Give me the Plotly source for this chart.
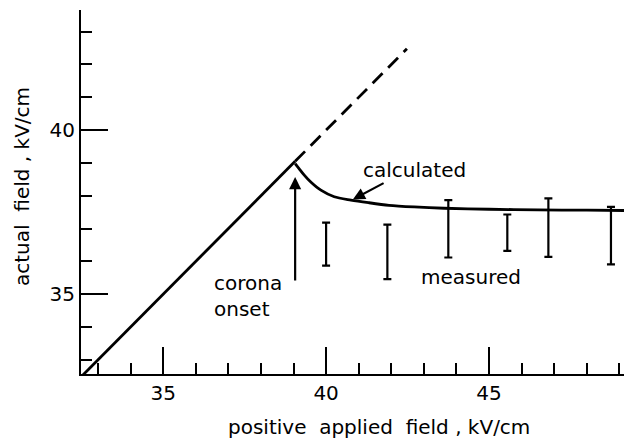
import plotly.graph_objects as go

# Below corona onset the actual field equals the applied field
onset_x = [32.48, 39.05]
onset_y = [32.48, 39.05]

# Extrapolation of the no-corona line beyond onset
extrap_x = [39.05, 42.48]
extrap_y = [39.05, 42.48]

# Calculated actual field after corona onset
calc_x = [39.05, 39.17, 39.33, 39.53, 39.84, 40.25, 40.76, 41.3, 41.93, 42.7, 43.62, 45.0, 46.5, 48.0, 49.2]
calc_y = [38.98, 38.83, 38.63, 38.42, 38.17, 37.97, 37.87, 37.79, 37.71, 37.66, 37.62, 37.59, 37.57, 37.56, 37.55]

# Measured ranges (low / high) of actual field
meas_x = [40.0, 41.88, 43.75, 45.56, 46.82, 48.74]
meas_lo = [35.87, 35.46, 36.12, 36.32, 36.14, 35.91]
meas_hi = [37.18, 37.12, 37.87, 37.43, 37.92, 37.66]

meas_mid = [(a + b) / 2 for a, b in zip(meas_lo, meas_hi)]
meas_half = [(b - a) / 2 for a, b in zip(meas_lo, meas_hi)]

FONT = "DejaVu Sans"
INK = "black"
FS = 20

fig = go.Figure()

fig.add_trace(go.Scatter(x=onset_x, y=onset_y, mode="lines",
                         line=dict(color=INK, width=2.8), hoverinfo="skip"))
fig.add_trace(go.Scatter(x=extrap_x, y=extrap_y, mode="lines",
                         line=dict(color=INK, width=2.8, dash="14px,8px"), hoverinfo="skip"))
fig.add_trace(go.Scatter(x=calc_x, y=calc_y, mode="lines",
                         line=dict(color=INK, width=2.8, shape="spline", smoothing=0.8),
                         hoverinfo="skip"))
fig.add_trace(go.Scatter(x=meas_x, y=meas_mid, mode="markers",
                         marker=dict(size=1, color="rgba(0,0,0,0)"),
                         error_y=dict(type="data", array=meas_half, symmetric=True,
                                      color=INK, thickness=2.2, width=4),
                         hoverinfo="skip"))

axis_common = dict(
    showline=True, linewidth=2, linecolor=INK, mirror=False,
    showgrid=False, zeroline=False,
    ticks="inside", ticklen=27, tickwidth=2, tickcolor=INK,
    dtick=5, tick0=35,
    minor=dict(ticks="inside", ticklen=11, tickwidth=2, tickcolor=INK, dtick=1, tick0=35),
    tickfont=dict(family=FONT, size=FS, color=INK),
)

fig.update_xaxes(range=[32.48, 49.14], **axis_common)
fig.update_yaxes(range=[32.57, 43.66], **axis_common)

annotations = [
    # axis titles
    dict(text="positive  applied  field , kV/cm", xref="paper", yref="paper",
         x=0.549, y=-0.1456, xanchor="center", yanchor="middle", showarrow=False,
         font=dict(family=FONT, size=FS, color=INK)),
    dict(text="actual  field , kV/cm", xref="paper", yref="paper",
         x=-0.1087, y=0.5165, xanchor="center", yanchor="middle", textangle=-90,
         showarrow=False, font=dict(family=FONT, size=FS, color=INK)),
    # labels
    dict(text="corona<br>onset", x=36.5, y=34.94, xref="x", yref="y",
         xanchor="left", yanchor="middle", align="left", showarrow=False,
         font=dict(family=FONT, size=FS, color=INK)),
    dict(text="calculated", x=42.71, y=38.78, xref="x", yref="y",
         xanchor="center", yanchor="middle", showarrow=False,
         font=dict(family=FONT, size=FS, color=INK)),
    dict(text="measured", x=44.44, y=35.52, xref="x", yref="y",
         xanchor="center", yanchor="middle", showarrow=False,
         font=dict(family=FONT, size=FS, color=INK)),
    # arrows
    dict(text="", x=39.05, y=38.57, ax=39.05, ay=35.37, xref="x", yref="y",
         axref="x", ayref="y", showarrow=True, arrowhead=2, arrowsize=1.1,
         arrowwidth=2.2, arrowcolor=INK),
    dict(text="", x=40.82, y=37.89, ax=41.81, ay=38.41, xref="x", yref="y",
         axref="x", ayref="y", showarrow=True, arrowhead=2, arrowsize=1.1,
         arrowwidth=2.2, arrowcolor=INK),
]

fig.update_layout(
    width=624, height=440,
    margin=dict(l=81, r=0, t=10, b=66),
    paper_bgcolor="white", plot_bgcolor="white",
    showlegend=False,
    annotations=annotations,
    font=dict(family=FONT, size=FS, color=INK),
)

fig.write_html("out.html")
